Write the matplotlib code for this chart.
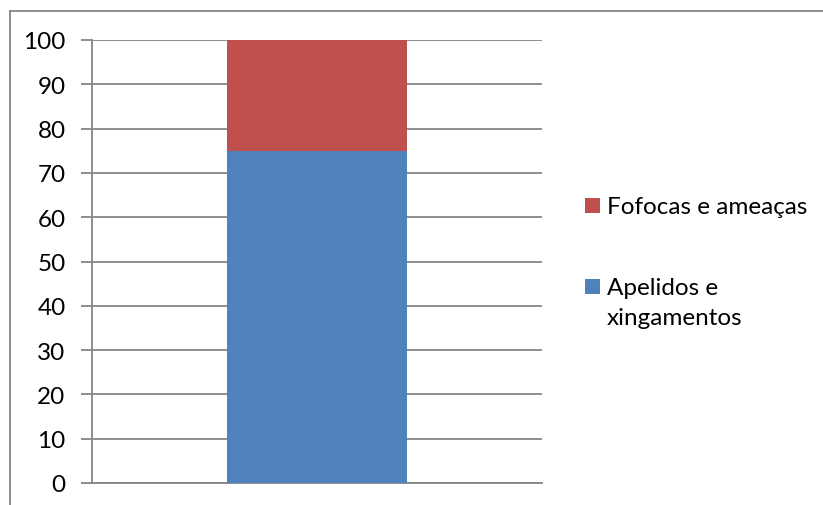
import matplotlib.pyplot as plt
from matplotlib.lines import Line2D
from matplotlib.patches import Rectangle

# data
category = [""]
apelidos = [75]
fofocas = [25]
series_labels = ["Apelidos e\nxingamentos", "Fofocas e ameaças"]
series_colors = ["#4F81BD", "#C0504D"]
yticks = list(range(0, 101, 10))

plt.rcParams["font.family"] = ["Lato", "DejaVu Sans"]

W, H = 823, 506
fig = plt.figure(figsize=(W / 100, H / 100), dpi=100)
ax = fig.add_axes([92 / W, 22 / H, 450 / W, 443 / H])

x = [0]
ax.bar(x, apelidos, width=0.4, color=series_colors[0], zorder=3)
ax.bar(x, fofocas, width=0.4, bottom=apelidos, color=series_colors[1], zorder=3)

ax.set_xlim(-0.5, 0.5)
ax.set_ylim(0, 100)
ax.set_yticks(yticks)
ax.set_xticks([])
ax.tick_params(axis="y", labelsize=17.5, length=8, width=1.3, color="#868686", pad=11)
ax.yaxis.grid(True, color="#868686", linewidth=1.3, zorder=0)
for side in ["top", "right"]:
    ax.spines[side].set_visible(False)
for side in ["left", "bottom"]:
    ax.spines[side].set_color("#868686")
    ax.spines[side].set_linewidth(1.3)

# chart-area border (only left and top edges fall inside the image)
fig.add_artist(Line2D([9.5 / W, 9.5 / W], [0, 1 - 12 / H], color="#868686", lw=1.3))
fig.add_artist(Line2D([9.5 / W, 1], [1 - 12 / H, 1 - 12 / H], color="#868686", lw=1.3))

# legend, drawn like the spreadsheet one: top entry is the top series
key_tops = [280, 199]  # pixel y of each key's top edge (blue, red)
for label, color, top in zip(series_labels, series_colors, key_tops):
    fig.add_artist(Rectangle((585 / W, 1 - (top + 15) / H), 15 / W, 15 / H,
                             facecolor=color, edgecolor="none"))
    fig.text(607 / W, 1 - (top - 2) / H, label, fontsize=17.5, va="top", ha="left",
             linespacing=1.55)

fig.savefig("out.png", dpi=100)
